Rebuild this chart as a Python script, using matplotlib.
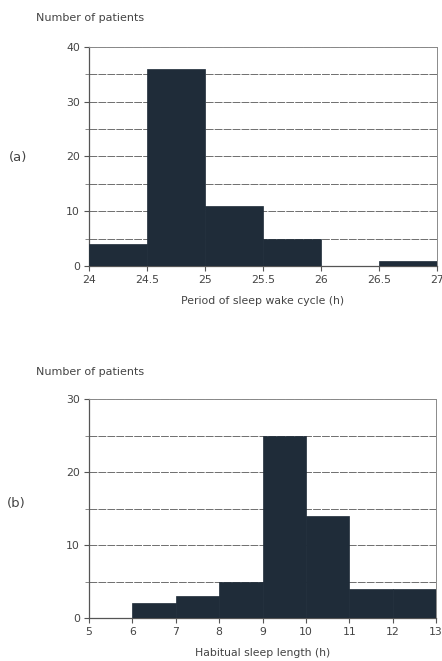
import matplotlib
matplotlib.use("Agg")
import matplotlib.pyplot as plt
import numpy as np

# Data
edges_a = [24, 24.5, 25, 25.5, 26, 26.5, 27]
counts_a = [4, 36, 11, 5, 0, 1]
xticks_a = [24, 24.5, 25, 25.5, 26, 26.5, 27]
xticklabels_a = ["24", "24.5", "25", "25.5", "26", "26.5", "27"]
yticks_a = [0, 10, 20, 30, 40]

edges_b = [5, 6, 7, 8, 9, 10, 11, 12, 13]
counts_b = [0, 2, 3, 5, 25, 14, 4, 4]
xticks_b = [5, 6, 7, 8, 9, 10, 11, 12, 13]
yticks_b = [0, 10, 20, 30]

bar_color = "#1f2c39"
txt_color = "#444444"

fig = plt.figure(figsize=(4.42, 6.61), dpi=100)

def draw(ax, edges, counts, xticks, xlabels, yticks, ymax, xlabel):
    e = np.array(edges, dtype=float)
    ax.bar(e[:-1], counts, width=np.diff(e), align="edge", color=bar_color,
           edgecolor=bar_color, linewidth=0.5, zorder=3)
    ax.set_xlim(e[0], e[-1])
    ax.set_ylim(0, ymax)
    ax.set_yticks(yticks)
    ax.set_yticks(np.arange(5, ymax, 5), minor=True)
    ax.set_xticks(xticks)
    ax.set_xticklabels(xlabels)
    ax.grid(axis="y", which="both", color="#6e6e6e", linewidth=0.7,
            linestyle=(0, (8, 1.2)), zorder=1)
    for s in ["top", "right"]:
        ax.spines[s].set_color("#8a8a8a")
        ax.spines[s].set_linewidth(0.7)
    for s in ["left", "bottom"]:
        ax.spines[s].set_color("#555555")
        ax.spines[s].set_linewidth(0.9)
    ax.tick_params(axis="both", which="major", labelsize=7.8, colors="#555555",
                   length=3.5, width=0.8, labelcolor=txt_color, pad=3)
    ax.tick_params(axis="y", which="minor", length=3, width=0.6, colors="#777777")
    ax.set_xlabel(xlabel, fontsize=7.8, color=txt_color, labelpad=8)

ax1 = fig.add_axes([0.2014, 0.5976, 0.7873, 0.3313])
draw(ax1, edges_a, counts_a, xticks_a, xticklabels_a, yticks_a, 40,
     "Period of sleep wake cycle (h)")
ax2 = fig.add_axes([0.2014, 0.0650, 0.7850, 0.3313])
draw(ax2, edges_b, counts_b, xticks_b, [str(t) for t in xticks_b], yticks_b, 30,
     "Habitual sleep length (h)")

fig.text(36/442, 1-18/661, "Number of patients", fontsize=8, color=txt_color,
         va="center", ha="left")
fig.text(36/442, 1-372/661, "Number of patients", fontsize=8, color=txt_color,
         va="center", ha="left")
fig.text(9/442, 1-157/661, "(a)", fontsize=9.5, color=txt_color, va="center", ha="left")
fig.text(7/442, 1-504/661, "(b)", fontsize=9.5, color=txt_color, va="center", ha="left")

fig.savefig("out.png", dpi=100)
